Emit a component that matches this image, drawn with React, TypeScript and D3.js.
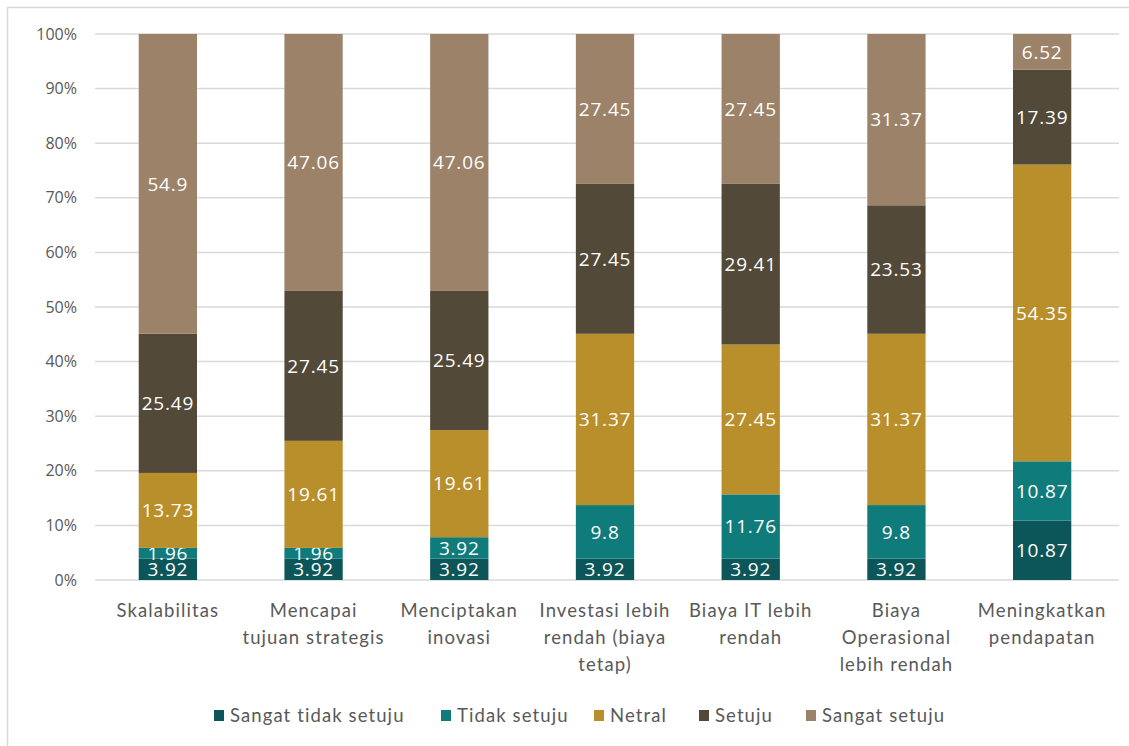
import React from "react";
import * as d3 from "d3";

const categories: string[][] = [
  ["Skalabilitas"],
  ["Mencapai", "tujuan strategis"],
  ["Menciptakan", "inovasi"],
  ["Investasi lebih", "rendah (biaya", "tetap)"],
  ["Biaya IT lebih", "rendah"],
  ["Biaya", "Operasional", "lebih rendah"],
  ["Meningkatkan", "pendapatan"],
];

const seriesNames = ["Sangat tidak setuju", "Tidak setuju", "Netral", "Setuju", "Sangat setuju"];
const seriesColors = ["#0c5558", "#0f7b7b", "#b98f2c", "#524938", "#9c8268"];

const sangatTidakSetuju = [3.92, 3.92, 3.92, 3.92, 3.92, 3.92, 10.87];
const tidakSetuju = [1.96, 1.96, 3.92, 9.8, 11.76, 9.8, 10.87];
const netral = [13.73, 19.61, 19.61, 31.37, 27.45, 31.37, 54.35];
const setuju = [25.49, 27.45, 25.49, 27.45, 29.41, 23.53, 17.39];
const sangatSetuju = [54.9, 47.06, 47.06, 27.45, 27.45, 31.37, 6.52];

const yTicks = [0, 10, 20, 30, 40, 50, 60, 70, 80, 90, 100];

const W = 1129;
const H = 746;
const FONT = "Lato, 'Open Sans', sans-serif";
const DFONT = "'Open Sans', 'Noto Sans', sans-serif";

export default function App() {
  const series = [sangatTidakSetuju, tidakSetuju, netral, setuju, sangatSetuju];
  const x = d3
    .scaleBand<number>()
    .domain(categories.map((_, i) => i))
    .range([95, 1115])
    .paddingInner(0.6)
    .paddingOuter(0.3);
  const y = d3.scaleLinear().domain([0, 100]).range([580, 34]);

  const rows = categories.map((_, i) => {
    const obj: Record<string, number> = {};
    seriesNames.forEach((s, k) => (obj[s] = series[k][i]));
    return obj;
  });
  const stacked = d3.stack<Record<string, number>>().keys(seriesNames).offset(d3.stackOffsetExpand)(rows);

  const legendX = [214, 441, 594, 699, 806];

  return (
    <svg width={W} height={H} style={{ position: "absolute", left: 0, top: 0, background: "#fff" }}>
      <rect x={7.5} y={7.5} width={1130} height={760} fill="#fff" stroke="#d9d9d9" strokeWidth={1.5} />
      {yTicks.map((t) => (
        <g key={t}>
          <line x1={95} x2={1119} y1={y(t)} y2={y(t)} stroke="#d9d9d9" strokeWidth={1.5} />
          <text x={77} y={y(t)} dy="0.35em" textAnchor="end" fontFamily={DFONT} fontSize={16} fill="#595959">
            {t}%
          </text>
        </g>
      ))}
      {stacked.map((layer, k) =>
        layer.map((d, i) => {
          const y0 = y(d[0] * 100);
          const y1 = y(d[1] * 100);
          const bx = x(i)!;
          return (
            <g key={`${k}-${i}`}>
              <rect x={bx} y={y1} width={x.bandwidth()} height={y0 - y1} fill={seriesColors[k]} />
              <text
                x={bx + x.bandwidth() / 2}
                y={(y0 + y1) / 2}
                dy="0.36em"
                textAnchor="middle"
                fontFamily={DFONT}
                fontSize={19}
                letterSpacing={0.8}
                fill="#ffffff"
              >
                {series[k][i]}
              </text>
            </g>
          );
        })
      )}
      {categories.map((lines, i) => (
        <text
          key={i}
          x={x(i)! + x.bandwidth() / 2}
          y={617}
          textAnchor="middle"
          fontFamily={FONT}
          fontSize={18.5}
          letterSpacing={1.1}
          fill="#595959"
        >
          {lines.map((l, j) => (
            <tspan key={j} x={x(i)! + x.bandwidth() / 2} dy={j === 0 ? 0 : 27}>
              {l}
            </tspan>
          ))}
        </text>
      ))}
      {seriesNames.map((s, k) => (
        <g key={s}>
          <rect x={legendX[k]} y={710} width={10} height={11} fill={seriesColors[k]} />
          <text
            x={legendX[k] + 16}
            y={716}
            dy="0.35em"
            fontFamily={FONT}
            fontSize={18.5}
            letterSpacing={1.1}
            fill="#595959"
          >
            {s}
          </text>
        </g>
      ))}
    </svg>
  );
}
